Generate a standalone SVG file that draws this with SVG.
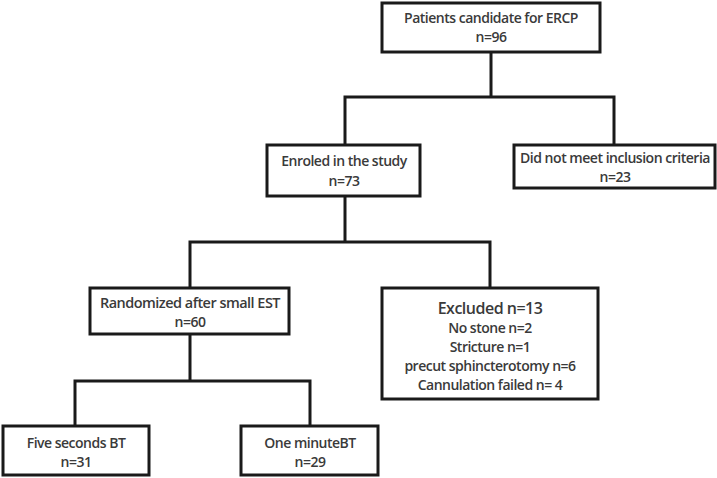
<svg xmlns="http://www.w3.org/2000/svg" width="717" height="478" viewBox="0 0 717 478">
<style>
rect{fill:#fff;stroke:#1a1a1a;stroke-width:3}
.c path{fill:none;stroke:#1a1a1a;stroke-width:3}
text{font-family:"Open Sans","Liberation Sans",sans-serif;font-weight:600;font-size:14px;fill:#3a3a3a;text-anchor:middle;letter-spacing:-0.5px}
</style>
<rect width="717" height="478" style="fill:#fff;stroke:none"/>
<g class="c">
<path d="M491 52V97M345 145V97H614V145M345 196V242M190 287V242H490V288M190 334V381M75 426V381H310V426"/>
</g>
<g id="n1"><rect x="382" y="3" width="218" height="49"/><text x="491" y="23">Patients candidate for ERCP</text><text x="491" y="42">n=96</text></g>
<g id="n2"><rect x="267" y="145" width="153" height="51"/><text x="344" y="166">Enroled in the study</text><text x="344" y="186">n=73</text></g>
<g id="n3"><rect x="514" y="145" width="201" height="43"/><text x="615" y="163" textLength="190" lengthAdjust="spacingAndGlyphs">Did not meet inclusion criteria</text><text x="615" y="182">n=23</text></g>
<g id="n4"><rect x="90" y="288" width="199" height="46"/><text x="190" y="308" textLength="180" lengthAdjust="spacingAndGlyphs">Randomized after small EST</text><text x="190" y="327">n=60</text></g>
<g id="n5"><rect x="382" y="288" width="216" height="111"/><text x="490" y="314" style="font-size:16px">Excluded n=13</text><text x="490" y="333">No stone n=2</text><text x="490" y="352">Stricture n=1</text><text x="490" y="371">precut sphincterotomy n=6</text><text x="490" y="390">Cannulation failed n= 4</text></g>
<g id="n6"><rect x="3" y="426" width="146" height="49"/><text x="76" y="448">Five seconds BT</text><text x="76" y="467">n=31</text></g>
<g id="n7"><rect x="241" y="426" width="137" height="49"/><text x="310" y="448">One minuteBT</text><text x="310" y="467">n=29</text></g>
</svg>
